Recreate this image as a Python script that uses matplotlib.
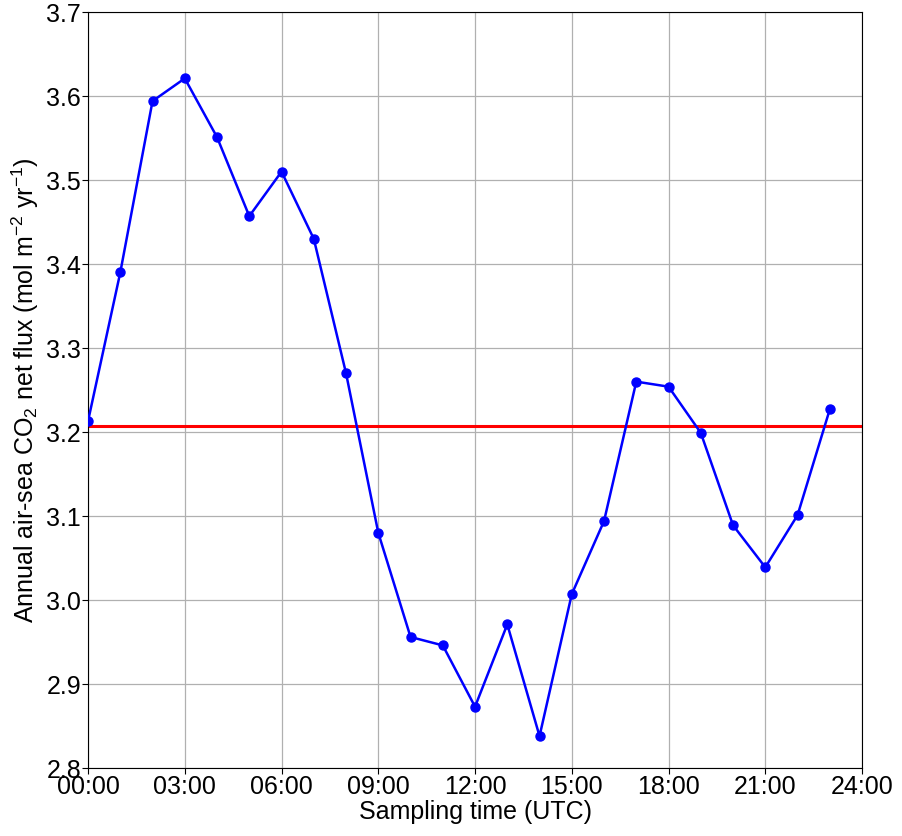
import matplotlib
matplotlib.use('Agg')
import matplotlib.pyplot as plt
import numpy as np

plt.rcParams['font.family'] = ['Liberation Sans', 'DejaVu Sans']
plt.rcParams['mathtext.fontset'] = 'custom'
plt.rcParams['mathtext.rm'] = 'Liberation Sans'
plt.rcParams['mathtext.it'] = 'Liberation Sans:italic'

# 采样时刻 (UTC 小时) 与年通量
hours = np.arange(24)
flux = [3.213, 3.390, 3.594, 3.621, 3.551, 3.457, 3.510, 3.430,
        3.270, 3.080, 2.956, 2.946, 2.873, 2.971, 2.838, 3.007,
        3.094, 3.260, 3.254, 3.199, 3.089, 3.039, 3.101, 3.227]
mean_flux = 3.207

tick_hours = np.arange(0, 25, 3)
tick_labels = ['00:00', '03:00', '06:00', '09:00', '12:00',
               '15:00', '18:00', '21:00', '24:00']
y_ticks = np.arange(2.8, 3.71, 0.1)

fig = plt.figure(figsize=(9.02, 8.36), dpi=100)
ax = fig.add_axes([0.0976, 0.0813, 0.8581, 0.9043])

ax.plot(hours, flux, color='blue', marker='o', markersize=6.5, linewidth=1.8, zorder=3)
ax.axhline(mean_flux, color='red', linewidth=2.2, zorder=2)

ax.set_xlim(0, 24)
ax.set_ylim(2.8, 3.7)
ax.set_xticks(tick_hours)
ax.set_xticklabels(tick_labels)
ax.set_yticks(y_ticks)
ax.set_yticklabels([f'{v:.1f}' for v in y_ticks])
ax.tick_params(labelsize=18, pad=1, length=4)
ax.grid(True, color='#b0b0b0', linewidth=0.9)
ax.set_axisbelow(True)

ax.set_xlabel('Sampling time (UTC)', fontsize=18, labelpad=1)
ax.set_ylabel(r'Annual air-sea CO$_2$ net flux (mol m$^{-2}$ yr$^{-1}$)', fontsize=18, labelpad=4)

plt.savefig('out.png', dpi=100)
plt.close()
